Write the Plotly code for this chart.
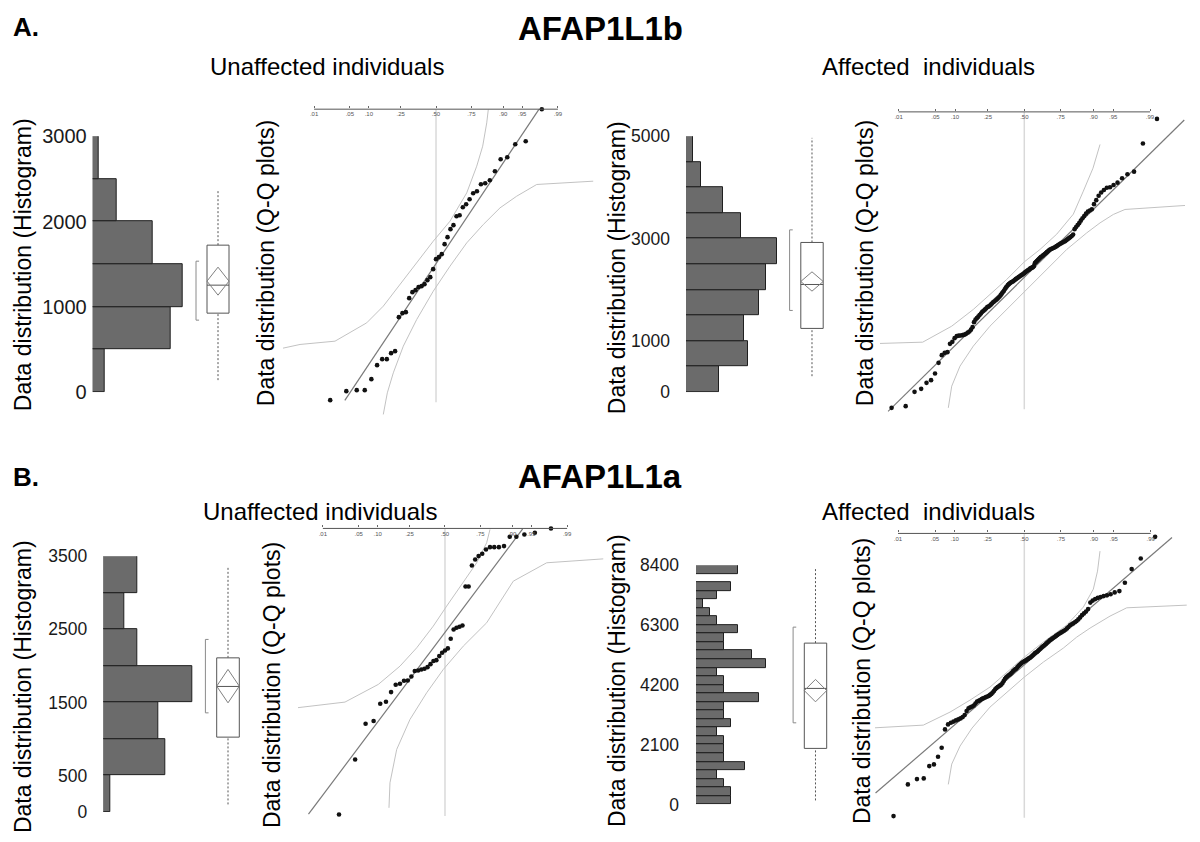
import plotly.graph_objects as go
from statistics import NormalDist

W, H = 1200, 842
FONT = "Liberation Sans, Arial, Helvetica, sans-serif"

# the photographed page shows y_photo = 9.8 + 0.974 * y_page; positions below are photo pixels
PHOTO_Y0, PHOTO_SY = 9.8, 0.974

def fx(px):
    return px / W

def fy(py):
    return 1 - ((py - PHOTO_Y0) / PHOTO_SY) / H

ND = NormalDist()

# ---------------- data ----------------
prob_ticks = [0.01, 0.05, 0.10, 0.25, 0.50, 0.75, 0.90, 0.95, 0.99]
prob_labels = [".01", ".05", ".10", ".25", ".50", ".75", ".90", ".95", ".99"]

# ---- A. AFAP1L1b, unaffected ----
a_un_bins = [0, 500, 1000, 1500, 2000, 2500]
a_un_counts = [2, 13, 15, 10, 4, 1]
a_un_box = [141, 926, 1254, 1723, 2356]          # whisker lo, q1, median, q3, whisker hi
a_un_mci = [1137, 1301, 1465]                    # mean CI lo, mean, CI hi
a_un_short = [844, 1535]                         # shortest half
a_un_qq = [110, 200, 210, 210, 320, 460, 520, 520, 580, 600,
           940, 980, 990, 1130, 1190, 1210, 1240, 1250, 1270, 1310,
           1340, 1420, 1520, 1540, 1570, 1670, 1740, 1820, 1860, 1950,
           1960, 2040, 2070, 2120, 2180, 2200, 2270, 2280, 2310, 2400,
           2520, 2540, 2670, 2700, 3020]
a_un_fit = [1475, 786, -1.74, 1.97]              # mean, sd, z from, z to
a_un_up_z = [-2.92, -2.595, -1.927, -1.323, -1.006, -0.687, -0.368, -0.052, 0.267, 0.586, 0.777, 0.891, 0.968, 0.998]
a_un_up_v = [630, 667, 700, 883, 1050, 1267, 1483, 1700, 1900, 2183, 2450, 2650, 2883, 3017]
a_un_lo_z = [-1.006, -0.929, -0.815, -0.624, -0.368, -0.052, 0.267, 0.586, 0.903, 1.221, 1.540, 1.922, 3.0]
a_un_lo_v = [-33, 183, 383, 650, 917, 1200, 1450, 1683, 1867, 2033, 2150, 2267, 2300]

# ---- A. AFAP1L1b, affected ----
a_af_bins = [0, 500, 1000, 1500, 2000, 2500, 3000, 3500, 4000, 4500]
a_af_counts = [9, 17, 16, 20, 22, 25, 15, 10, 4, 2]
a_af_box = [312, 1245, 2103, 2924, 4967]
a_af_mci = [1973, 2162, 2350]
a_af_short = [1596, 3170]
a_af_qq = [100, 129, 372, 423, 525, 571, 685, 865, 996, 1035,
           1047, 1188, 1222, 1285, 1319, 1328, 1331, 1336, 1345, 1358,
           1379, 1399, 1430, 1472, 1557, 1600, 1625, 1651, 1680, 1705,
           1732, 1749, 1770, 1790, 1812, 1821, 1836, 1855, 1875, 1894,
           1909, 1924, 1940, 1957, 1975, 1994, 2016, 2042, 2064, 2088,
           2115, 2144, 2164, 2186, 2203, 2217, 2230, 2241, 2249, 2259,
           2273, 2288, 2300, 2310, 2322, 2334, 2346, 2356, 2368, 2378,
           2390, 2407, 2419, 2429, 2441, 2450, 2467, 2475, 2484, 2492,
           2509, 2560, 2577, 2594, 2611, 2628, 2645, 2662, 2674, 2688,
           2701, 2717, 2730, 2747, 2761, 2778, 2793, 2802, 2810, 2819,
           2827, 2837, 2849, 2863, 2876, 2890, 2900, 2912, 2924, 2934,
           2951, 2968, 2985, 3002, 3023, 3046, 3138, 3176, 3206, 3240,
           3283, 3322, 3363, 3402, 3436, 3456, 3475, 3563, 3631, 3706,
           3762, 3805, 3842, 3852, 3890, 3929, 4005, 4073, 4116, 4595,
           5013]
a_af_fit = [2319, 904, -2.52, 2.96]
a_af_up_z = [-2.67, -1.88, -1.343, -0.944, -0.635, -0.326, 0.0, 0.291, 0.600, 0.907, 1.092, 1.271, 1.401]
a_af_up_v = [1195, 1217, 1489, 1773, 2028, 2283, 2582, 2793, 3053, 3393, 3784, 4175, 4578]
a_af_lo_z = [-1.406, -1.343, -1.190, -0.944, -0.635, -0.204, 0.105, 0.415, 0.785, 1.155, 1.401, 1.647, 1.863, 2.974]
a_af_lo_v = [100, 469, 809, 1149, 1489, 1885, 2169, 2453, 2793, 3075, 3245, 3388, 3473, 3541]

# ---- B. AFAP1L1a, unaffected ----
b_un_bins = [0, 500, 1000, 1500, 2000, 2500, 3000]
b_un_counts = [1, 9, 8, 13, 5, 3, 5]
b_un_box = [105, 1025, 1718, 2109, 3363]
b_un_mci = [1494, 1722, 1951]
b_un_short = [1357, 2361]
b_un_qq = [101, 745, 1162, 1194, 1396, 1420, 1533, 1619, 1630, 1665,
           1669, 1716, 1779, 1786, 1798, 1806, 1825, 1860, 1896, 1907,
           1954, 1993, 2020, 2044, 2157, 2266, 2286, 2297, 2313, 2769,
           2769, 3015, 3085, 3124, 3151, 3202, 3229, 3229, 3229, 3241,
           3350, 3350, 3377, 3397, 3448]
b_un_fit = [2232, 818, -2.60, 1.48]
b_un_up_z = [-2.8, -1.905, -1.270, -0.857, -0.539, -0.223, 0.032, 0.349, 0.604, 0.794, 0.857]
b_un_up_v = [1351, 1416, 1623, 1837, 2051, 2305, 2539, 2812, 3046, 3280, 3436]
b_un_lo_z = [-1.067, -1.048, -0.920, -0.667, -0.349, -0.032, 0.349, 0.794, 1.301, 1.937, 3.015]
b_un_lo_v = [179, 472, 862, 1213, 1525, 1798, 2071, 2344, 2831, 3046, 3092]

# ---- B. AFAP1L1a, affected ----
b_af_bins = [i * 300 for i in range(28)]
b_af_counts = [5, 5, 4, 3, 7, 4, 4, 4, 3, 5, 4, 4, 9, 4, 4, 3, 10, 8, 4, 4,
               6, 3, 2, 1, 3, 5, 0, 6]
b_af_box = [140, 1966, 4072, 5662, 8284]
b_af_mci = [3601, 3995, 4388]
b_af_short = [2864, 6223]
b_af_qq = [100, 1032, 1188, 1208, 1570, 1620, 1843, 2108, 2649, 2796,
           2843, 2878, 2914, 2943, 2972, 3011, 3069, 3187, 3266, 3296,
           3319, 3349, 3407, 3466, 3487, 3510, 3540, 3560, 3578, 3599,
           3616, 3634, 3663, 3693, 3731, 3775, 3828, 3863, 3893, 3916,
           3943, 3966, 4010, 4069, 4128, 4172, 4201, 4231, 4254, 4281,
           4316, 4354, 4386, 4413, 4434, 4472, 4510, 4539, 4569, 4598,
           4622, 4642, 4657, 4678, 4701, 4722, 4745, 4760, 4789, 4819,
           4848, 4883, 4907, 4927, 4957, 4989, 5019, 5054, 5083, 5110,
           5139, 5171, 5201, 5233, 5268, 5289, 5318, 5342, 5368, 5398,
           5421, 5451, 5474, 5501, 5524, 5551, 5580, 5618, 5662, 5707,
           5736, 5765, 5798, 5833, 5883, 5942, 6009, 6059, 6112, 6186,
           6377, 6436, 6480, 6515, 6539, 6568, 6591, 6621, 6677, 6715,
           6959, 7362, 7676, 8311]
b_af_fit = [4548, 1376, -2.74, 2.72]
b_af_up_z = [-2.75, -1.860, -1.368, -1.000, -0.632, -0.263, 0.0, 0.350, 0.781, 1.087, 1.271, 1.348, 1.394]
b_af_up_v = [2696, 2775, 3158, 3510, 3893, 4422, 4775, 5216, 5715, 6245, 6774, 7303, 7891]
b_af_lo_z = [-1.400, -1.337, -1.184, -0.963, -0.632, -0.263, 0.0, 0.350, 0.718, 0.965, 1.210, 1.578, 1.886, 2.991]
b_af_lo_v = [1032, 1629, 2158, 2687, 3305, 3834, 4187, 4628, 5039, 5363, 5627, 5980, 6224, 6303]

# ---------------- layout geometry (pixels) ----------------
panels = [
    dict(bins=a_un_bins, bw=500, counts=a_un_counts, box=a_un_box, mci=a_un_mci, short=a_un_short,
         qq=a_un_qq, fit=a_un_fit, upz=a_un_up_z, upv=a_un_up_v, loz=a_un_lo_z, lov=a_un_lo_v,
         yticks=[0, 1000, 2000, 3000], standoff=5, tfs=20,
         hx=(92.7, 192.7), hxmax=16.67, hy=(135, 391), hyr=(0, 3000),
         bc=218, bu=11.0,
         qx=(280, 595), qzr=(-2.977, 3.034), qy=(108, 415), qvr=(-50, 3020), vlo=90),
    dict(bins=a_af_bins, bw=500, counts=a_af_counts, box=a_af_box, mci=a_af_mci, short=a_af_short,
         qq=a_af_qq, fit=a_af_fit, upz=a_af_up_z, upv=a_af_up_v, loz=a_af_lo_z, lov=a_af_lo_v,
         yticks=[0, 1000, 3000, 5000], standoff=15, tfs=17.5,
         hx=(686, 786), hxmax=27.4, hy=(135, 391), hyr=(0, 5000),
         bc=812, bu=11.2,
         qx=(880, 1186), qzr=(-2.670, 2.992), qy=(110.7, 412), qvr=(10, 5132), vlo=78),
    dict(bins=b_un_bins, bw=500, counts=b_un_counts, box=b_un_box, mci=b_un_mci, short=b_un_short,
         qq=b_un_qq, fit=b_un_fit, upz=b_un_up_z, upv=b_un_up_v, loz=b_un_lo_z, lov=b_un_lo_v,
         yticks=[0, 500, 1500, 2500, 3500], standoff=15, tfs=17.5,
         hx=(103.3, 203.3), hxmax=14.6, hy=(555, 811), hyr=(0, 3500),
         bc=228, bu=11.3,
         qx=(298, 604), qzr=(-2.8, 3.029), qy=(527.3, 818), qvr=(47, 3448), vlo=82),
    dict(bins=b_af_bins, bw=300, counts=b_af_counts, box=b_af_box, mci=b_af_mci, short=b_af_short,
         qq=b_af_qq, fit=b_af_fit, upz=b_af_up_z, upv=b_af_up_v, loz=b_af_lo_z, lov=b_af_lo_v,
         yticks=[0, 2100, 4200, 6300, 8400], standoff=16, tfs=17.5,
         hx=(696, 776), hxmax=11.43, hy=(564, 803.3), hyr=(0, 8400),
         bc=815.5, bu=11.2,
         qx=(875, 1187), qzr=(-2.750, 2.996), qy=(532.3, 818), qvr=(12, 8411), vlo=50),
]

BOX_LO, BOX_HI = -2.3, 1.3

fig = go.Figure()
layout = {}
shapes = []

for k, p in enumerate(panels):
    hx_id, bx_id, qx_id = 3 * k + 1, 3 * k + 2, 3 * k + 3
    hy_id, qy_id = 2 * k + 1, 2 * k + 2
    hx, bx, qx = f"x{hx_id}", f"x{bx_id}", f"x{qx_id}"
    hy, qy = f"y{hy_id}", f"y{qy_id}"

    # ---- histogram ----
    fig.add_trace(go.Bar(
        y=[b + p["bw"] / 2 for b in p["bins"]], x=p["counts"], orientation="h", width=p["bw"],
        marker=dict(color="#6b6b6b", line=dict(color="#1f1f1f", width=1)),
        xaxis=hx, yaxis=hy, showlegend=False, hoverinfo="skip"))

    # ---- box plot ----
    wlo, q1, med, q3, whi = p["box"]
    clo, mean, chi = p["mci"]
    slo, shi = p["short"]
    fig.add_trace(go.Scatter(x=[0, 0, None, 0, 0], y=[wlo, q1, None, q3, whi], mode="lines",
                             line=dict(color="#555555", width=1, dash="2px,2px"),
                             xaxis=bx, yaxis=hy, showlegend=False, hoverinfo="skip"))
    fig.add_trace(go.Scatter(x=[-1, 1, 1, -1, -1], y=[q1, q1, q3, q3, q1], mode="lines",
                             fill="toself", fillcolor="white", line=dict(color="#555555", width=1),
                             xaxis=bx, yaxis=hy, showlegend=False, hoverinfo="skip"))
    fig.add_trace(go.Scatter(x=[-1, 1], y=[med, med], mode="lines",
                             line=dict(color="#555555", width=1),
                             xaxis=bx, yaxis=hy, showlegend=False, hoverinfo="skip"))
    fig.add_trace(go.Scatter(x=[-1, 0, 1, 0, -1], y=[mean, chi, mean, clo, mean], mode="lines",
                             line=dict(color="#808080", width=1),
                             xaxis=bx, yaxis=hy, showlegend=False, hoverinfo="skip"))
    fig.add_trace(go.Scatter(x=[-1.72, -2.0, -2.0, -1.72], y=[slo, slo, shi, shi], mode="lines",
                             line=dict(color="#8a8a8a", width=1),
                             xaxis=bx, yaxis=hy, showlegend=False, hoverinfo="skip"))

    # ---- Q-Q plot ----
    n = len(p["qq"])
    zq = [ND.inv_cdf(i / (n + 1)) for i in range(1, n + 1)]
    fig.add_trace(go.Scatter(x=p["upz"], y=p["upv"], mode="lines",
                             line=dict(color="#c2c2c2", width=1),
                             xaxis=qx, yaxis=qy, showlegend=False, hoverinfo="skip"))
    fig.add_trace(go.Scatter(x=p["loz"], y=p["lov"], mode="lines",
                             line=dict(color="#c2c2c2", width=1),
                             xaxis=qx, yaxis=qy, showlegend=False, hoverinfo="skip"))
    mu, sd, z0, z1 = p["fit"]
    fig.add_trace(go.Scatter(x=[z0, z1], y=[mu + sd * z0, mu + sd * z1], mode="lines",
                             line=dict(color="#7a7a7a", width=1.2),
                             xaxis=qx, yaxis=qy, showlegend=False, hoverinfo="skip"))
    fig.add_trace(go.Scatter(x=zq, y=p["qq"], mode="markers",
                             marker=dict(color="#111111", size=4.6),
                             cliponaxis=False,
                             xaxis=qx, yaxis=qy, showlegend=False, hoverinfo="skip"))

    # axes
    layout[f"xaxis{hx_id}"] = dict(domain=[fx(p["hx"][0]), fx(p["hx"][1])], range=[0, p["hxmax"]],
                                   visible=False, anchor=hy, fixedrange=True)
    layout[f"yaxis{hy_id}"] = dict(domain=[fy(p["hy"][1]), fy(p["hy"][0])], range=list(p["hyr"]),
                                   anchor=hx, tickvals=p["yticks"], ticks="", showline=False,
                                   showgrid=False, zeroline=False, ticklabelstandoff=p["standoff"],
                                   tickfont=dict(family=FONT, size=p["tfs"], color="#1a1a1a"))
    layout[f"xaxis{bx_id}"] = dict(domain=[fx(p["bc"] + BOX_LO * p["bu"]), fx(p["bc"] + BOX_HI * p["bu"])],
                                   range=[BOX_LO, BOX_HI], visible=False, anchor=hy)
    layout[f"xaxis{qx_id}"] = dict(domain=[fx(p["qx"][0]), fx(p["qx"][1])], range=list(p["qzr"]),
                                   anchor=qy, side="top",
                                   tickvals=[ND.inv_cdf(t) for t in prob_ticks], ticktext=prob_labels,
                                   ticks="outside", ticklen=2, tickwidth=1, tickcolor="#666666",
                                   ticklabelposition="inside",
                                   tickfont=dict(family=FONT, size=6, color="#555555"),
                                   showline=False, showgrid=False, zeroline=False)
    layout[f"yaxis{qy_id}"] = dict(domain=[fy(p["qy"][1]), fy(p["qy"][0])], range=list(p["qvr"]),
                                   visible=False, anchor=qx)

    shapes.append(dict(type="line", xref=qx, yref=f"{qy} domain",
                       x0=ND.inv_cdf(prob_ticks[0]), x1=ND.inv_cdf(prob_ticks[-1]), y0=1, y1=1,
                       line=dict(color="#555555", width=1)))
    shapes.append(dict(type="line", xref=qx, yref=qy, x0=0, x1=0, y0=p["vlo"], y1=p["qvr"][1],
                       line=dict(color="#d9d9d9", width=1.5), layer="below"))

# ---------------- text ----------------
ann = []

def text(t, px, py, size, bold=False, angle=0, xanchor="center"):
    ann.append(dict(text=f"<b>{t}</b>" if bold else t, x=fx(px), y=fy(py), xref="paper", yref="paper",
                    showarrow=False, textangle=angle, xanchor=xanchor, yanchor="middle",
                    font=dict(family=FONT, size=size, color="#000000")))

text("A.", 11, 26, 26, bold=True, xanchor="left")
text("AFAP1L1b", 600, 27, 33, bold=True)
text("Unaffected individuals", 327, 65, 24)
text("Affected\u00a0 individuals", 928, 65, 24)
text("B.", 11, 476, 26, bold=True, xanchor="left")
text("AFAP1L1a", 600, 475, 33, bold=True)
text("Unaffected individuals", 320, 510, 24)
text("Affected\u00a0 individuals", 928, 510, 24)

text("Data distribution (Histogram)", 23, 264, 23, angle=-90)
text("Data distribution (Q-Q plots)", 266, 262, 23, angle=-90)
text("Data distribution (Histogram)", 617, 267, 23, angle=-90)
text("Data distribution (Q-Q plots)", 865, 262, 23, angle=-90)
text("Data distribution (Histogram)", 23, 686, 23, angle=-90)
text("Data distribution (Q-Q plots)", 272, 684, 23, angle=-90)
text("Data distribution (Histogram)", 617, 680, 23, angle=-90)
text("Data distribution (Q-Q plots)", 862, 680, 23, angle=-90)

fig.update_layout(
    width=W, height=H, margin=dict(l=0, r=0, t=0, b=0),
    paper_bgcolor="white", plot_bgcolor="white",
    showlegend=False, bargap=0, annotations=ann, shapes=shapes,
    font=dict(family=FONT),
    **layout,
)

fig.write_html("out.html",
               config={"displayModeBar": False},
               post_script="document.body.style.margin='0';document.body.style.overflow='hidden';")
